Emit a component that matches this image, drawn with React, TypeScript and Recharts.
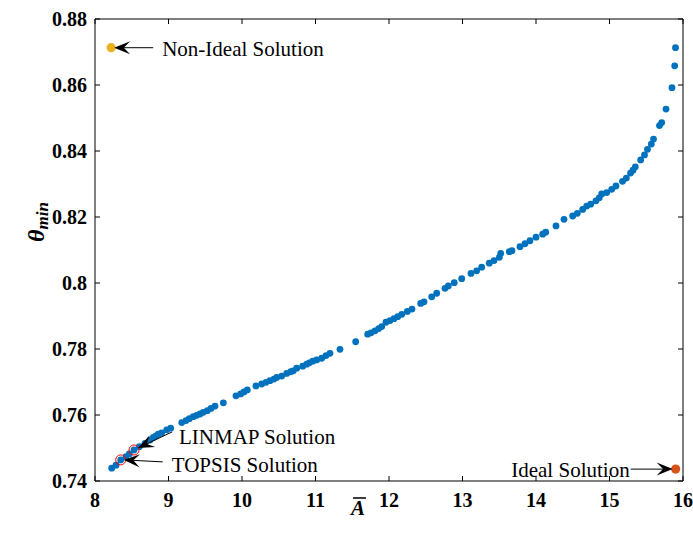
import { ScatterChart, Scatter, XAxis, YAxis } from "recharts";

// Pareto front: Ā (x) against θ_min (y)
const aBar = [
  8.227, 8.286, 8.35, 8.422, 8.467, 8.531, 8.603, 8.68, 8.748, 8.793, 8.83, 8.861,
  8.907, 8.976, 9.03, 9.18, 9.238, 9.283, 9.337, 9.384, 9.429, 9.473, 9.528, 9.578,
  9.633, 9.746, 9.918, 9.982, 10.027, 10.072, 10.19, 10.268, 10.327, 10.381, 10.435,
  10.472, 10.54, 10.608, 10.663, 10.698, 10.744, 10.826, 10.88, 10.916, 10.962,
  11.016, 11.084, 11.143, 11.197, 11.333, 11.547, 11.71, 11.755, 11.81, 11.86, 11.901,
  11.959, 12.014, 12.068, 12.118, 12.173, 12.249, 12.313, 12.431, 12.476, 12.581,
  12.649, 12.762, 12.807, 12.888, 12.989, 13.116, 13.193, 13.261, 13.364, 13.429,
  13.501, 13.52, 13.637, 13.673, 13.782, 13.85, 13.918, 14.0, 14.091, 14.132, 14.272,
  14.381, 14.499, 14.562, 14.635, 14.69, 14.744, 14.816, 14.861, 14.894, 14.962,
  15.03, 15.088, 15.177, 15.229, 15.286, 15.32, 15.351, 15.424, 15.476, 15.517,
  15.569, 15.599, 15.68, 15.71, 15.769, 15.85, 15.887, 15.898,
];
const thetaMin = [
  0.7439, 0.7448, 0.7464, 0.7474, 0.7482, 0.7494, 0.7504, 0.7514, 0.7524, 0.7532,
  0.7537, 0.7542, 0.7546, 0.7555, 0.756, 0.7577, 0.7583, 0.7589, 0.7595, 0.7599,
  0.7603, 0.7608, 0.7613, 0.762, 0.7627, 0.7637, 0.7658, 0.7664, 0.767, 0.7676,
  0.7688, 0.7694, 0.7699, 0.7704, 0.7709, 0.7714, 0.7718, 0.7726, 0.7731, 0.7734,
  0.7742, 0.7748, 0.7754, 0.7758, 0.7763, 0.7767, 0.7772, 0.778, 0.7787, 0.7799,
  0.7822, 0.7845, 0.7849, 0.7855, 0.7862, 0.7868, 0.7881, 0.7886, 0.7892, 0.7898,
  0.7905, 0.7914, 0.7921, 0.7938, 0.7943, 0.7958, 0.7969, 0.7984, 0.7991, 0.8001,
  0.8013, 0.8029, 0.8037, 0.8048, 0.806, 0.8068, 0.8078, 0.809, 0.8095, 0.8098,
  0.811, 0.8119, 0.8128, 0.8139, 0.8148, 0.8154, 0.8173, 0.8193, 0.8203, 0.8211,
  0.8223, 0.8233, 0.8239, 0.8249, 0.8258, 0.827, 0.8274, 0.8284, 0.8294, 0.8308,
  0.8318, 0.8333, 0.8342, 0.8352, 0.8373, 0.8388, 0.8405, 0.8421, 0.8436, 0.8477,
  0.8486, 0.8527, 0.8592, 0.8658, 0.8713,
];

// decision-making results
const solutionNames = ["Non-Ideal Solution", "Ideal Solution", "LINMAP Solution", "TOPSIS Solution"];
const solutionA = [8.22, 15.9, 8.531, 8.35];
const solutionTheta = [0.8713, 0.7436, 0.7494, 0.7464];

const xTicks = [8, 9, 10, 11, 12, 13, 14, 15, 16];
const yTicks = [0.74, 0.76, 0.78, 0.8, 0.82, 0.84, 0.86, 0.88];

const front = aBar.map((x, i) => ({ x, y: thetaMin[i] }));
const solutions = solutionNames.map((name, i) => ({ name, x: solutionA[i], y: solutionTheta[i] }));

const SERIF = "Liberation Serif";
const BLUE = "#0072BD";

type Callout = {
  marker: "dot" | "ring";
  color: string;
  tip: [number, number];
  tail: [number, number];
  text: [number, number];
  anchor: "start" | "end";
};

// pixel offsets of arrow and text relative to the marked point
const CALLOUTS: Record<string, Callout> = {
  "Non-Ideal Solution": { marker: "dot", color: "#EDB120", tip: [3, 0], tail: [42, 0], text: [51, 1], anchor: "start" },
  "Ideal Solution": { marker: "dot", color: "#D95319", tip: [-3, 0], tail: [-45, 0], text: [-46, 1], anchor: "end" },
  "LINMAP Solution": { marker: "ring", color: "#FF0000", tip: [4, -2], tail: [38, -18], text: [45, -13], anchor: "start" },
  "TOPSIS Solution": { marker: "ring", color: "#FF0000", tip: [3, 0], tail: [42, 2], text: [51, 5], anchor: "start" },
};

function Arrow({ x1, y1, x2, y2 }: { x1: number; y1: number; x2: number; y2: number }) {
  const len = Math.hypot(x2 - x1, y2 - y1);
  const dx = (x2 - x1) / len;
  const dy = (y2 - y1) / len;
  const L = 16;
  const W = 6.5;
  const bx = x2 - dx * L;
  const by = y2 - dy * L;
  const nx = x2 - dx * L * 0.6;
  const ny = y2 - dy * L * 0.6;
  const head = `M${x2},${y2} L${bx - dy * W},${by + dx * W} L${nx},${ny} L${bx + dy * W},${by - dx * W} Z`;
  return (
    <g>
      <line x1={x1} y1={y1} x2={nx} y2={ny} stroke="#000" strokeWidth={1} />
      <path d={head} fill="#000" />
    </g>
  );
}

// eslint-disable-next-line @typescript-eslint/no-explicit-any
function SolutionMark(props: any) {
  const { cx, cy, payload } = props;
  const c = CALLOUTS[payload.name];
  return (
    <g>
      {c.marker === "dot" ? (
        <circle cx={cx} cy={cy} r={4.6} fill={c.color} />
      ) : (
        <circle cx={cx} cy={cy} r={5} fill="none" stroke={c.color} strokeWidth={1} />
      )}
      <Arrow x1={cx + c.tail[0]} y1={cy + c.tail[1]} x2={cx + c.tip[0]} y2={cy + c.tip[1]} />
      <text
        x={cx + c.text[0]}
        y={cy + c.text[1]}
        textAnchor={c.anchor}
        dominantBaseline="central"
        fontFamily={SERIF}
        fontSize={21}
        fill="#000"
      >
        {payload.name}
      </text>
    </g>
  );
}

// eslint-disable-next-line @typescript-eslint/no-explicit-any
function FrontDot(props: any) {
  return <circle cx={props.cx} cy={props.cy} r={3.4} fill={BLUE} />;
}

function NoDot() {
  return <g />;
}

// eslint-disable-next-line @typescript-eslint/no-explicit-any
function XTick(props: any) {
  const { x, y, payload } = props;
  return (
    <text x={x} y={y} dy={14} textAnchor="middle" fontFamily={SERIF} fontSize={20} fontWeight="bold" fill="#000">
      {payload.value}
    </text>
  );
}

// eslint-disable-next-line @typescript-eslint/no-explicit-any
function YTick(props: any) {
  const { x, y, payload } = props;
  return (
    <text x={x} y={y} dy={7} textAnchor="end" fontFamily={SERIF} fontSize={20} fontWeight="bold" fill="#000">
      {String(Number(Number(payload.value).toFixed(2)))}
    </text>
  );
}

// eslint-disable-next-line @typescript-eslint/no-explicit-any
function XLabel(props: any) {
  const { x, y, width } = props.viewBox;
  const cx = x + width / 2 - 31;
  const cy = y + 27;
  return (
    <g>
      <text x={cx} y={cy} textAnchor="middle" dominantBaseline="central" fontFamily={SERIF} fontSize={21} fontWeight="bold" fontStyle="italic">
        A
      </text>
      <line x1={cx - 5} y1={cy - 10} x2={cx + 8} y2={cy - 10} stroke="#000" strokeWidth={1.5} />
    </g>
  );
}

// eslint-disable-next-line @typescript-eslint/no-explicit-any
function YLabel(props: any) {
  const { x, y, height } = props.viewBox;
  const cx = x + 1;
  const cy = y + height / 2 - 28;
  return (
    <text
      x={cx}
      y={cy}
      textAnchor="middle"
      dominantBaseline="central"
      transform={`rotate(-90, ${cx}, ${cy})`}
      fontFamily={SERIF}
      fontWeight="bold"
      fontStyle="italic"
      fill="#000"
    >
      <tspan fontSize={24}>θ</tspan>
      <tspan fontSize={17} dy={6}>min</tspan>
    </text>
  );
}

const axisStroke = { stroke: "#000", strokeWidth: 1 };

export default function App() {
  return (
    <div style={{ position: "absolute", left: 0, top: 0, background: "#fff" }}>
      <ScatterChart width={693} height={534} margin={{ top: 18, right: 9, bottom: 23, left: 35 }}>
        <XAxis
          dataKey="x"
          type="number"
          domain={[8, 16]}
          ticks={xTicks}
          height={30}
          tickSize={-5}
          tickMargin={17}
          axisLine={axisStroke}
          tickLine={axisStroke}
          tick={XTick}
          label={{ content: XLabel }}
        />
        <XAxis
          xAxisId="top"
          dataKey="x"
          orientation="top"
          type="number"
          domain={[8, 16]}
          allowDataOverflow
          ticks={xTicks}
          height={1}
          tickSize={-5}
          axisLine={axisStroke}
          tickLine={axisStroke}
          tick={NoDot}
        />
        <YAxis
          dataKey="y"
          type="number"
          domain={[0.74, 0.88]}
          ticks={yTicks}
          width={60}
          tickSize={-5}
          tickMargin={13}
          axisLine={axisStroke}
          tickLine={axisStroke}
          tick={YTick}
          label={{ content: YLabel }}
        />
        <YAxis
          yAxisId="right"
          dataKey="y"
          orientation="right"
          type="number"
          domain={[0.74, 0.88]}
          allowDataOverflow
          ticks={yTicks}
          width={1}
          tickSize={-5}
          axisLine={axisStroke}
          tickLine={axisStroke}
          tick={NoDot}
        />
        {/* binds the mirrored box axes to the same data range */}
        <Scatter data={front} xAxisId="top" yAxisId="right" shape={NoDot} isAnimationActive={false} />
        <Scatter data={front} fill={BLUE} shape={FrontDot} isAnimationActive={false} />
        <Scatter data={solutions} fill="#000" shape={SolutionMark} isAnimationActive={false} />
      </ScatterChart>
    </div>
  );
}
